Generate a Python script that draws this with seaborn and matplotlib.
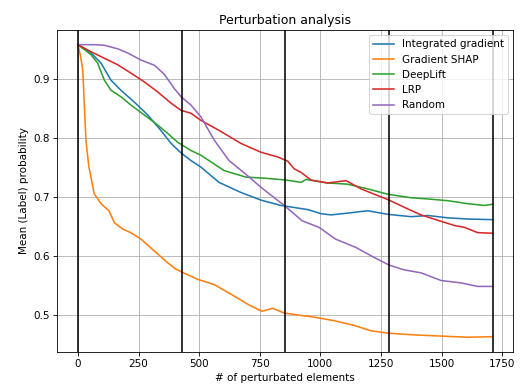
import matplotlib
matplotlib.use("Agg")
import matplotlib.pyplot as plt
import seaborn as sns
import pandas as pd

# ---- data ----
ig_x = [0, 54, 95, 136, 177, 232, 288, 342, 384, 425, 466, 507, 582, 672, 755, 837, 948, 1003, 1044, 1112, 1195, 1278, 1374, 1443, 1526, 1608, 1710]
ig_y = [0.958, 0.944, 0.927, 0.898, 0.881, 0.861, 0.839, 0.813, 0.791, 0.775, 0.762, 0.751, 0.725, 0.708, 0.695, 0.686, 0.679, 0.672, 0.670, 0.673, 0.677, 0.671, 0.667, 0.669, 0.665, 0.663, 0.662]

gs_x = [0, 10, 20, 33, 45, 54, 67, 95, 128, 150, 185, 218, 260, 315, 370, 405, 425, 494, 563, 635, 704, 759, 803, 851, 920, 975, 1057, 1140, 1208, 1277, 1387, 1498, 1608, 1710]
gs_y = [0.958, 0.940, 0.915, 0.796, 0.752, 0.733, 0.706, 0.689, 0.677, 0.657, 0.646, 0.640, 0.629, 0.609, 0.589, 0.578, 0.574, 0.561, 0.552, 0.535, 0.518, 0.507, 0.512, 0.504, 0.500, 0.497, 0.491, 0.483, 0.474, 0.470, 0.467, 0.465, 0.463, 0.464]

dl_x = [0, 54, 81, 109, 136, 177, 218, 274, 329, 370, 411, 466, 507, 603, 692, 774, 858, 920, 941, 1030, 1112, 1195, 1278, 1374, 1443, 1526, 1608, 1677, 1710]
dl_y = [0.958, 0.941, 0.927, 0.898, 0.881, 0.870, 0.856, 0.839, 0.822, 0.808, 0.793, 0.779, 0.771, 0.745, 0.734, 0.732, 0.729, 0.725, 0.730, 0.724, 0.722, 0.714, 0.705, 0.699, 0.697, 0.694, 0.689, 0.686, 0.688]

lrp_x = [0, 54, 109, 164, 218, 274, 329, 384, 425, 466, 507, 582, 672, 755, 824, 865, 892, 920, 961, 1030, 1106, 1168, 1222, 1278, 1361, 1415, 1484, 1553, 1594, 1649, 1710]
lrp_y = [0.958, 0.946, 0.935, 0.924, 0.910, 0.895, 0.878, 0.859, 0.847, 0.842, 0.830, 0.813, 0.791, 0.776, 0.768, 0.761, 0.748, 0.742, 0.729, 0.724, 0.728, 0.714, 0.705, 0.696, 0.680, 0.670, 0.661, 0.652, 0.649, 0.640, 0.639]

rnd_x = [0, 67, 108, 164, 205, 260, 316, 356, 397, 425, 466, 507, 563, 623, 692, 760, 851, 925, 994, 1063, 1146, 1222, 1284, 1346, 1415, 1498, 1580, 1649, 1710]
rnd_y = [0.958, 0.958, 0.957, 0.951, 0.944, 0.932, 0.923, 0.908, 0.884, 0.870, 0.856, 0.836, 0.796, 0.762, 0.739, 0.715, 0.686, 0.660, 0.649, 0.629, 0.615, 0.598, 0.585, 0.577, 0.572, 0.559, 0.555, 0.549, 0.549]

series_names = ["Integrated gradient", "Gradient SHAP", "DeepLift", "LRP", "Random"]
series_x = [ig_x, gs_x, dl_x, lrp_x, rnd_x]
series_y = [ig_y, gs_y, dl_y, lrp_y, rnd_y]

vlines = [0, 427.5, 855, 1282.5, 1710]

frames = []
for name, xs, ys in zip(series_names, series_x, series_y):
    frames.append(pd.DataFrame({"x": xs, "y": ys, "method": name}))
df = pd.concat(frames, ignore_index=True)

plt.rcParams.update(plt.rcParamsDefault)
DPI = 75
fig = plt.figure(figsize=(520 / DPI, 385 / DPI), dpi=DPI)
ax = fig.add_axes([0.110, 0.086, 0.877, 0.836])

palette = ["#1f77b4", "#ff7f0e", "#2ca02c", "#d62728", "#9467bd"]
sns.lineplot(data=df, x="x", y="y", hue="method", hue_order=series_names,
             palette=palette, ax=ax, linewidth=1.5, estimator=None, sort=False)

for v in vlines:
    ax.axvline(v, color="black", linewidth=1.5)

ax.grid(True)
ax.set_title("Perturbation analysis")
ax.set_xlabel("# of perturbated elements")
ax.set_ylabel("Mean (Label) probability")
ax.set_xticks([0, 250, 500, 750, 1000, 1250, 1500, 1750])
ax.legend(loc="upper right", title=None)

fig.savefig("out.png", dpi=DPI)
